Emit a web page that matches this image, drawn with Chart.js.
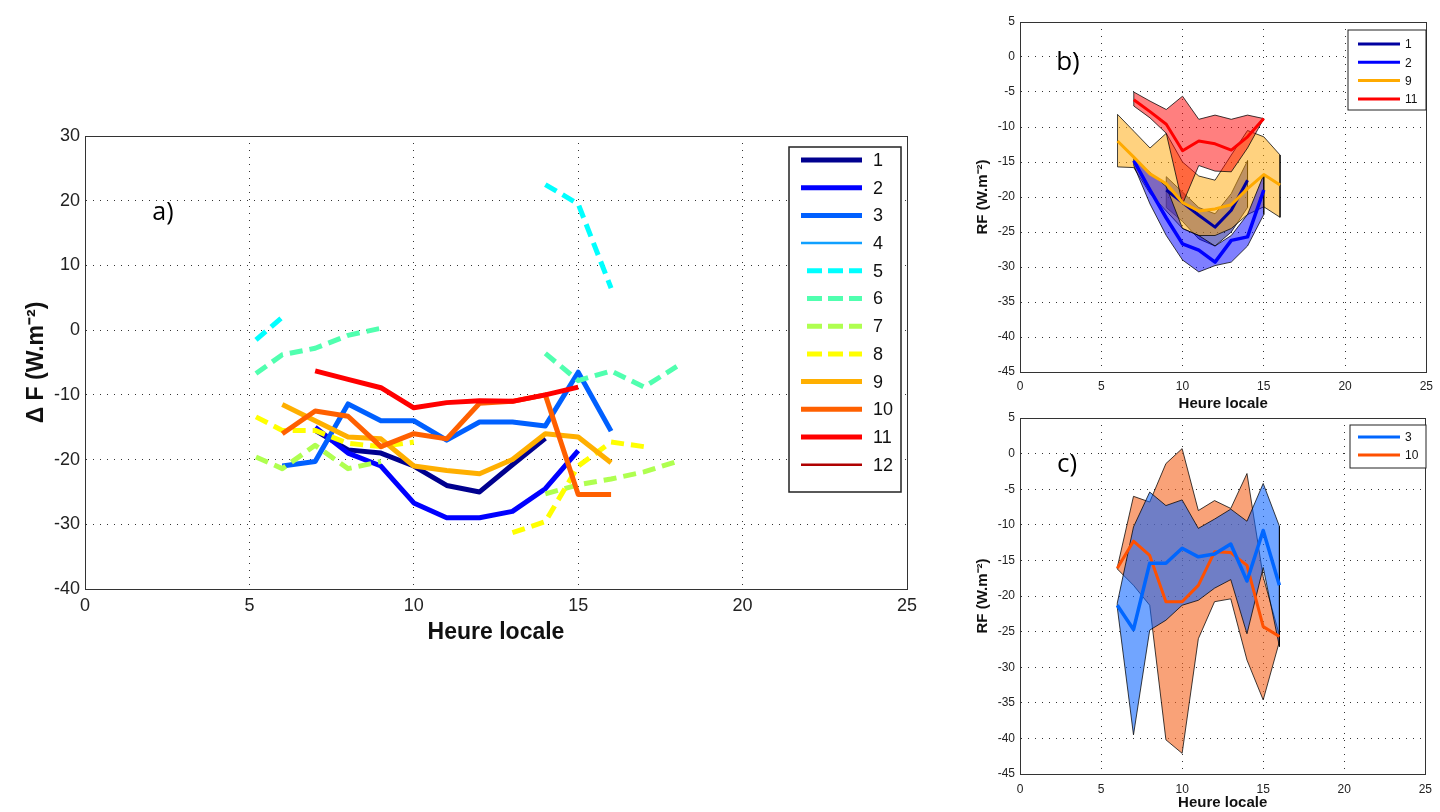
<!DOCTYPE html>
<html>
<head>
<meta charset="utf-8">
<script src="https://cdn.jsdelivr.net/npm/chart.js@4.4.1/dist/chart.umd.min.js"></script>
<style>
  html, body { margin: 0; padding: 0; background: #fff; width: 1440px; height: 812px; overflow: hidden; }
  canvas { position: absolute; }
</style>
</head>
<body>
<canvas id="chartA" width="940" height="560" style="left:0;top:100px;width:940px;height:560px"></canvas>
<canvas id="chartB" width="480" height="415" style="left:960px;top:0;width:480px;height:415px"></canvas>
<canvas id="chartC" width="480" height="412" style="left:960px;top:400px;width:480px;height:412px"></canvas>
<script>
// ---- panel a : delta F per month (local hour) ----
const hoursA = [5.2, 6, 7, 8, 9, 10, 11, 12, 13, 14, 15, 16, 17, 18];
const s1  = [null, null, -15.5, -18.5, -19, -21, -24, -25, -20.8, -16.7, null, null, null, null];
const s2  = [null, null, -15, -19, -21, -26.7, -29, -29, -28, -24.5, -18.6, null, null, null];
const s3  = [null, -21, -20.3, -11.4, -14, -14, -17, -14.2, -14.2, -14.8, -6.5, -15.6, null, null];
const s4  = [null, null, null, null, null, null, null, null, null, null, null, null, null, null];
const s5  = [-1.5, 2, null, null, null, null, null, null, null, 22.5, 19.5, 6.5, null, null];
const s6  = [-6.7, -3.8, -2.8, -0.8, 0.3, null, null, null, null, -3.6, -7.8, -6.3, -8.8, -5.6];
const s7  = [-19.6, -21.4, -17.8, -21.4, -20.3, null, null, null, null, -25.3, -23.9, -23, -21.9, -20.3];
const s8  = [-13.4, -15.5, -15.5, -17.5, -18, -17.3, null, null, -31.3, -29.6, -21, -17.3, -18, null];
const s9  = [null, -11.5, -14, -16.5, -16.8, -21, -21.7, -22.2, -20, -16, -16.5, -20.5, null, null];
const s10 = [null, -16, -12.5, -13.3, -18, -16, -16.8, -11.3, -11, -10, -25.4, -25.4, null, null];
const s11 = [null, null, -6.3, -7.6, -8.9, -12, -11.2, -10.9, -11, -10, -8.8, null, null, null];
const s12 = [null, null, null, null, null, null, null, null, null, null, null, null, null, null];
const seriesA = [s1, s2, s3, s4, s5, s6, s7, s8, s9, s10, s11, s12];
const labelsA = ['1', '2', '3', '4', '5', '6', '7', '8', '9', '10', '11', '12'];

// ---- panel b : RF with spread, months 1, 2, 9, 11 ----
const hoursB = [6, 7, 8, 9, 10, 11, 12, 13, 14, 15, 16];
const b1Mean = [null, null, null, -19, -20.8, -22.6, -24.3, -21.9, -17.6, null, null];
const b1Up   = [null, null, null, -17.1, -19.3, -21.5, -22.4, -19.5, -14.8, null, null];
const b1Low  = [null, null, null, -21.5, -23.5, -26, -27, -25, -21.5, null, null];
const b2Mean = [null, -14.8, -19, -23, -26.7, -27.6, -29.3, -26.2, -25.7, -19, null];
const b2Up   = [null, -14.5, -16.5, -18.5, -24.5, -25.5, -27, -25.5, -22.5, -16.8, null];
const b2Low  = [null, -15.5, -21, -25.5, -29, -30.7, -29.8, -29.3, -27, -22.5, null];
const b9Mean = [-12, -14.3, -16.7, -18.1, -20.8, -22, -21.7, -21.1, -18.8, -16.8, -18.3];
const b9Up   = [-8.2, -10.6, -13, -10.9, -15, -17, -17.6, -14, -10.5, -11.4, -14];
const b9Low  = [-15.7, -15.8, -19.5, -22, -24.5, -25.5, -25.5, -24.5, -22.5, -21.4, -22.9];
const b11Mean = [null, -6.1, -7.8, -9.6, -13.4, -12, -12.4, -13.3, -11.4, -8.8, null];
const b11Up   = [null, -5, -6.3, -7.5, -5.6, -8.9, -8.3, -8.9, -8.3, -8.8, null];
const b11Low  = [null, -7, -8.7, -10.9, -21, -15.5, -16.3, -16.4, -13, -8.8, null];

// ---- panel c : RF with spread, months 3, 10 ----
const hoursC = [6, 7, 8, 9, 10, 11, 12, 13, 14, 15, 16];
const c3Mean = [-21.3, -24.7, -15.4, -15.4, -13.3, -14.5, -14.1, -12.7, -17.9, -10.8, -18.5];
const c3Up   = [-21, -10.3, -5.4, -7.3, -6.5, -10.5, -9.2, -7.8, -9.5, -4.2, -10.2];
const c3Low  = [-21.6, -39.5, -24.8, -23.4, -21.3, -20.6, -18.9, -17.7, -25.3, -16, -27.1];
const c10Mean = [-16.1, -12.3, -14.3, -20.8, -20.8, -18.5, -13.8, -13.9, -15.7, -24.3, -25.7];
const c10Up   = [-16, -6, -6.8, -1.4, 0.7, -8, -6.6, -7.7, -2.8, -17.3, -25.5];
const c10Low  = [-16.2, -18.5, -21.3, -40.2, -42.1, -26, -20.8, -20.4, -29, -34.6, -26.4];

// line styles for the 12 months (jet-like colours)
const stylesA = [
  { color: '#00008F', width: 5, dash: [] },
  { color: '#0000FF', width: 5, dash: [] },
  { color: '#0060FF', width: 5, dash: [] },
  { color: '#10A0FF', width: 2, dash: [] },
  { color: '#00FFFF', width: 5, dash: [13, 7] },
  { color: '#50FFAF', width: 5, dash: [13, 7] },
  { color: '#AFFF50', width: 5, dash: [13, 7] },
  { color: '#FFFF00', width: 5, dash: [13, 7] },
  { color: '#FFAF00', width: 5, dash: [] },
  { color: '#FF6000', width: 5, dash: [] },
  { color: '#FF0000', width: 5, dash: [] },
  { color: '#AF0000', width: 2, dash: [] }
];

Chart.defaults.font.family = "'Liberation Sans', Arial, sans-serif";
Chart.defaults.color = '#222';
Chart.defaults.animation = false;

function toPoints(xs, ys) {
  return xs.map((x, i) => ({ x: x, y: ys[i] }));
}
function validPoints(xs, ys) {
  return toPoints(xs, ys).filter(p => p.y !== null);
}

// two datasets: outline of the upper edge (with closing vertical ends) filled down to the lower edge
function band(xs, up, low, fillColor, order) {
  const upPts = validPoints(xs, up);
  const lowPts = validPoints(xs, low);
  const first = lowPts[0], last = lowPts[lowPts.length - 1];
  const outline = [{ x: first.x, y: first.y }].concat(upPts, [{ x: last.x, y: last.y }]);
  return [
    { data: outline, borderColor: 'rgba(0,0,0,0.75)', borderWidth: 1, backgroundColor: fillColor,
      fill: '+1', pointRadius: 0, tension: 0, order: order },
    { data: lowPts, borderColor: 'rgba(0,0,0,0.75)', borderWidth: 1, fill: false,
      pointRadius: 0, tension: 0, order: order - 1 }
  ];
}
function meanLine(xs, ys, color, width, order) {
  return { data: validPoints(xs, ys), borderColor: color, borderWidth: width, fill: false,
    pointRadius: 0, tension: 0, borderJoinStyle: 'round', order: order };
}

function xScale(opt) {
  return {
    type: 'linear', min: 0, max: 25,
    ticks: { stepSize: 5, autoSkip: false, maxRotation: 0, padding: opt.tickPad, font: { size: opt.tickSize }, color: '#222' },
    grid: { color: '#333', lineWidth: 1, drawTicks: false },
    border: { display: true, color: '#333', dash: [1, 6] },
    title: { display: true, text: 'Heure locale', color: '#111', font: { size: opt.titleSize, weight: 'bold' },
      padding: { top: 0, bottom: opt.titlePad } },
    afterFit: s => { s.height = opt.height; }
  };
}
function yScale(opt) {
  return {
    type: 'linear', min: opt.min, max: opt.max,
    ticks: { stepSize: opt.step, autoSkip: false, padding: opt.tickPad, font: { size: opt.tickSize }, color: '#222' },
    grid: { color: '#333', lineWidth: 1, drawTicks: false },
    border: { display: true, color: '#333', dash: [1, 6] },
    title: { display: true, text: opt.title, color: '#111', font: { size: opt.titleSize, weight: 'bold' },
      padding: { top: opt.titlePad, bottom: 0 } },
    afterFit: s => { s.width = opt.width; }
  };
}

// axes box on all four sides
const framePlugin = {
  id: 'frame',
  afterDatasetsDraw(chart) {
    const a = chart.chartArea, ctx = chart.ctx;
    ctx.save();
    ctx.strokeStyle = '#333';
    ctx.lineWidth = 1;
    ctx.strokeRect(Math.round(a.left) + 0.5, Math.round(a.top) + 0.5,
      Math.round(a.right - a.left), Math.round(a.bottom - a.top));
    ctx.restore();
  }
};
function panelLabel(text, x, y, size) {
  return {
    id: 'panelLabel',
    afterDraw(chart) {
      const ctx = chart.ctx;
      ctx.save();
      ctx.font = size + "px 'Open Sans', sans-serif";
      ctx.fillStyle = '#000';
      ctx.textAlign = 'center';
      ctx.textBaseline = 'middle';
      ctx.fillText(text, x, y);
      ctx.restore();
    }
  };
}
function boxLegend(cfg) {
  return {
    id: 'boxLegend',
    afterDraw(chart) {
      const ctx = chart.ctx;
      ctx.save();
      ctx.fillStyle = '#fff';
      ctx.fillRect(cfg.x, cfg.y, cfg.w, cfg.h);
      ctx.strokeStyle = '#222';
      ctx.lineWidth = cfg.bw;
      ctx.strokeRect(cfg.x, cfg.y, cfg.w, cfg.h);
      cfg.items.forEach((it, i) => {
        const y = cfg.row0 + i * cfg.gap;
        const dashed = it.dash && it.dash.length;
        ctx.beginPath();
        ctx.setLineDash(dashed ? cfg.dash : []);
        ctx.strokeStyle = it.color;
        ctx.lineWidth = it.width;
        ctx.moveTo(dashed ? cfg.dx1 : cfg.x1, y);
        ctx.lineTo(cfg.x2, y);
        ctx.stroke();
        ctx.setLineDash([]);
        ctx.fillStyle = '#111';
        ctx.font = cfg.font;
        ctx.textBaseline = 'middle';
        ctx.fillText(it.label, cfg.tx, y + 1);
      });
      ctx.restore();
    }
  };
}

// ---------------- panel a ----------------
const datasetsA = seriesA.map((s, i) => ({
  label: labelsA[i],
  data: toPoints(hoursA, s),
  borderColor: stylesA[i].color,
  borderWidth: stylesA[i].width,
  borderDash: stylesA[i].dash,
  borderJoinStyle: 'round',
  pointRadius: 0,
  tension: 0,
  spanGaps: false,
  fill: false,
  order: 13 - i
}));

new Chart(document.getElementById('chartA'), {
  type: 'line',
  data: { datasets: datasetsA },
  options: {
    responsive: false,
    layout: { padding: { left: 0, top: 36, right: 33, bottom: 0 } },
    plugins: { legend: { display: false }, tooltip: { enabled: false } },
    scales: {
      x: xScale({ tickPad: 6, tickSize: 18, titleSize: 23, titlePad: 14, height: 71 }),
      y: yScale({ min: -40, max: 30, step: 10, tickPad: 5, tickSize: 18, title: 'Δ F (W.m⁻²)',
        titleSize: 23, titlePad: 23, width: 85 })
    }
  },
  plugins: [
    framePlugin,
    panelLabel('a)', 163, 113, 25),
    boxLegend({
      x: 789, y: 47, w: 112, h: 345, bw: 1.5, row0: 60, gap: 27.7,
      x1: 801, dx1: 807, x2: 862, tx: 873, dash: [15, 6], font: "18px 'Liberation Sans', sans-serif",
      items: labelsA.map((l, i) => ({ label: l, color: stylesA[i].color,
        width: stylesA[i].width === 5 ? 5 : 2.5, dash: stylesA[i].dash }))
    })
  ]
});

// ---------------- panel b ----------------
const datasetsB = []
  .concat(band(hoursB, b1Up, b1Low, 'rgba(0,0,143,0.5)', 80))
  .concat(band(hoursB, b9Up, b9Low, 'rgba(255,165,0,0.5)', 70))
  .concat(band(hoursB, b2Up, b2Low, 'rgba(0,0,255,0.5)', 60))
  .concat(band(hoursB, b11Up, b11Low, 'rgba(255,0,0,0.5)', 50))
  .concat([
    meanLine(hoursB, b1Mean, '#0000A0', 3, 14),
    meanLine(hoursB, b2Mean, '#0000FF', 3.5, 13),
    meanLine(hoursB, b9Mean, '#FFAA00', 3, 12),
    meanLine(hoursB, b11Mean, '#FF0000', 3, 11)
  ]);

new Chart(document.getElementById('chartB'), {
  type: 'line',
  data: { datasets: datasetsB },
  options: {
    responsive: false,
    layout: { padding: { left: 0, top: 22, right: 9, bottom: 0 } },
    plugins: { legend: { display: false }, tooltip: { enabled: false } },
    scales: {
      x: xScale({ tickPad: 7, tickSize: 12, titleSize: 15, titlePad: 2, height: 43 }),
      y: yScale({ min: -45, max: 5, step: 5, tickPad: 5, tickSize: 12, title: 'RF (W.m⁻²)',
        titleSize: 15, titlePad: 14, width: 60 })
    }
  },
  plugins: [
    framePlugin,
    panelLabel('b)', 108, 63, 26),
    boxLegend({
      x: 388, y: 30, w: 78, h: 80, bw: 1, row0: 44, gap: 18.3,
      x1: 398, dx1: 398, x2: 440, tx: 445, dash: [], font: "12px 'Liberation Sans', sans-serif",
      items: [
        { label: '1', color: '#0000A0', width: 3 },
        { label: '2', color: '#0000FF', width: 3 },
        { label: '9', color: '#FFAA00', width: 3 },
        { label: '11', color: '#FF0000', width: 3 }
      ]
    })
  ]
});

// ---------------- panel c ----------------
const datasetsC = []
  .concat(band(hoursC, c10Up, c10Low, 'rgba(245,100,30,0.6)', 70))
  .concat(band(hoursC, c3Up, c3Low, 'rgba(10,100,255,0.58)', 60))
  .concat([
    meanLine(hoursC, c10Mean, '#FF5000', 3, 12),
    meanLine(hoursC, c3Mean, '#0066FF', 3.5, 11)
  ]);

new Chart(document.getElementById('chartC'), {
  type: 'line',
  data: { datasets: datasetsC },
  options: {
    responsive: false,
    layout: { padding: { left: 0, top: 18, right: 9, bottom: 0 } },
    plugins: { legend: { display: false }, tooltip: { enabled: false } },
    scales: {
      x: xScale({ tickPad: 8, tickSize: 12, titleSize: 15, titlePad: 0, height: 38 }),
      y: yScale({ min: -45, max: 5, step: 5, tickPad: 5, tickSize: 12, title: 'RF (W.m⁻²)',
        titleSize: 15, titlePad: 14, width: 60 })
    }
  },
  plugins: [
    framePlugin,
    panelLabel('c)', 107, 65, 26),
    boxLegend({
      x: 390, y: 25, w: 76, h: 43, bw: 1, row0: 37, gap: 18,
      x1: 398, dx1: 398, x2: 440, tx: 445, dash: [], font: "12px 'Liberation Sans', sans-serif",
      items: [
        { label: '3', color: '#0066FF', width: 3 },
        { label: '10', color: '#FF5000', width: 3 }
      ]
    })
  ]
});
</script>
</body>
</html>
